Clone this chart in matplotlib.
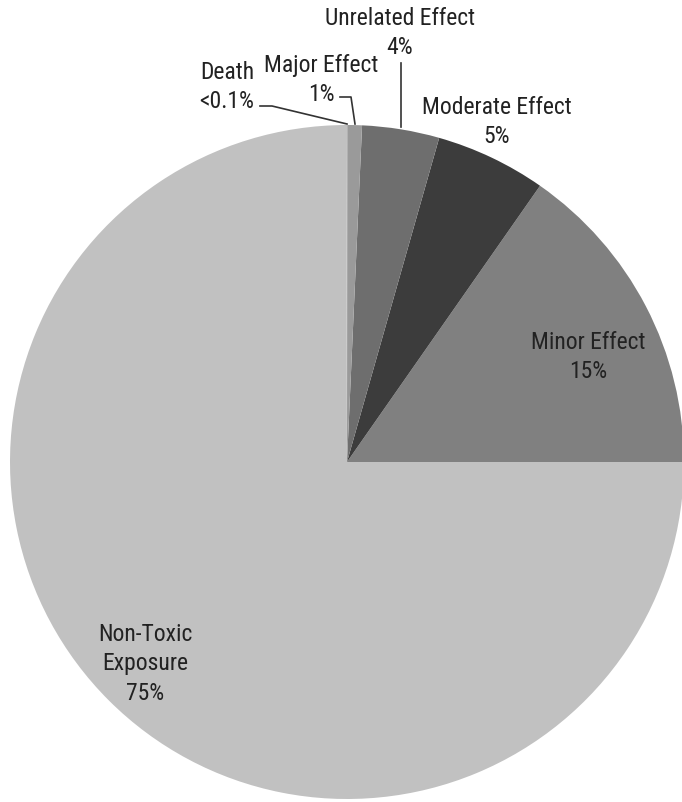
import matplotlib
matplotlib.use("Agg")
import matplotlib.pyplot as plt

categories = ["Minor Effect", "Moderate Effect", "Unrelated Effect", "Major Effect", "Death", "Non-Toxic\nExposure"]
values = [15.3, 5.3, 3.7, 0.7, 0.05, 75.0]
pct_labels = ["15%", "5%", "4%", "1%", "<0.1%", "75%"]
colors = ["#808080", "#3c3c3c", "#6e6e6e", "#9a9a9a", "#b0b0b0", "#c1c1c1"]

plt.rcParams['font.family'] = ['Roboto Condensed', 'DejaVu Sans']

W, H = 682, 803
fig = plt.figure(figsize=(W / 100, H / 100), dpi=100)
ax = fig.add_axes([0, 0, 1, 1])

def Y(py):
    return H - py

cx, cy, r = 347, 463, 337
ax.pie(values, colors=colors, startangle=0, counterclock=True,
       center=(cx, Y(cy)), radius=r, wedgeprops=dict(linewidth=0))
ax.set_xlim(0, W)
ax.set_ylim(0, H)
ax.set_aspect('equal')
ax.axis('off')

tc = "#222222"
fs = 17
# label positions in pixel coordinates (label, x, y)
pos = {
    "Minor Effect": (588, 357),
    "Moderate Effect": (497, 122),
    "Unrelated Effect": (400, 33),
    "Major Effect": (321, 80),
    "Death": (227, 87),
    "Non-Toxic\nExposure": (145, 664),
}
for cat, pct in zip(categories, pct_labels):
    x, y = pos[cat]
    ax.text(x, Y(y), f"{cat}\n{pct}", ha="center", va="center",
            fontsize=fs, color=tc, linespacing=1.38)

lc = "#333333"
lw = 1.2
# leader lines
ax.plot([401, 401], [Y(64), Y(128)], color=lc, lw=lw)
ax.plot([340, 351, 355], [Y(98), Y(98), Y(125)], color=lc, lw=lw)
ax.plot([260, 272, 347], [Y(107), Y(107), Y(125)], color=lc, lw=lw)

fig.savefig("out.png", dpi=100)
